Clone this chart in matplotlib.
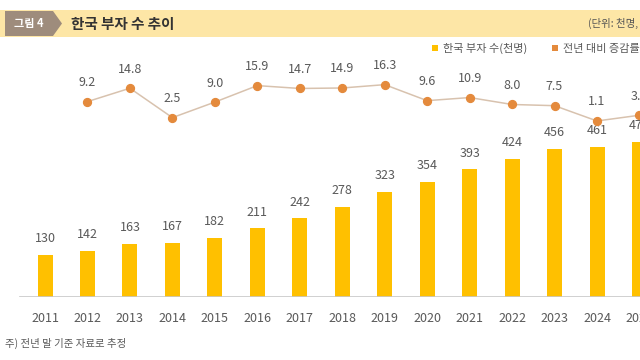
import matplotlib
matplotlib.use("Agg")
import matplotlib.pyplot as plt
from matplotlib.patches import Rectangle, Polygon

plt.rcParams['font.family'] = ['Noto Sans CJK KR', 'DejaVu Sans']

# 데이터
years = list(range(2011, 2026))
rich_counts = [130, 142, 163, 167, 182, 211, 242, 278, 323, 354, 393, 424, 456, 461, 477]
growth_years = list(range(2012, 2026))
growth_rates = [9.2, 14.8, 2.5, 9.0, 15.9, 14.7, 14.9, 16.3, 9.6, 10.9, 8.0, 7.5, 1.1, 3.5]

title = "한국 부자 수 추이"
tag = "그림 4"
unit = "(단위: 천명, %)"
legend_bar = "한국 부자 수(천명)"
legend_line = "전년 대비 증감률(%)"
note = "주) 전년 말 기준 자료로 추정"

W, H = 640, 360
bar_color = "#FFC000"
dot_color = "#E48A3C"
line_color = "#D8C2AE"
text_color = "#595959"

fig = plt.figure(figsize=(6.4, 3.6), dpi=100)
fig.patch.set_facecolor("white")

def fx(px):
    return px / W

def fy(py):
    return 1 - py / H

# 헤더 띠
fig.patches.append(Rectangle((0, fy(37)), 1, fy(10) - fy(37), transform=fig.transFigure,
                             facecolor="#FDE6A6", edgecolor="none", zorder=0))
tag_pts = [(fx(5), fy(11)), (fx(53), fy(11)), (fx(62), fy(23.5)), (fx(53), fy(36)), (fx(5), fy(36))]
fig.patches.append(Polygon(tag_pts, closed=True, transform=fig.transFigure,
                           facecolor="#9E8C7C", edgecolor="none", zorder=1))
fig.text(fx(29), fy(23.5), tag, color="white", fontsize=8, fontweight="bold", ha="center", va="center")
fig.text(fx(71), fy(23.5), title, color="#333333", fontsize=10.5, fontweight="bold", ha="left", va="center")
fig.text(fx(588), fy(23.5), unit, color="#555555", fontsize=7.5, ha="left", va="center")

# 범례
fig.patches.append(Rectangle((fx(432), fy(51)), fx(6), fy(45) - fy(51), transform=fig.transFigure,
                             facecolor=bar_color, edgecolor="none"))
fig.text(fx(443), fy(48), legend_bar, color=text_color, fontsize=8, ha="left", va="center")
fig.patches.append(Rectangle((fx(552), fy(51)), fx(6), fy(45) - fy(51), transform=fig.transFigure,
                             facecolor=dot_color, edgecolor="none"))
fig.text(fx(563), fy(48), legend_line, color=text_color, fontsize=8, ha="left", va="center")

# 메인 차트
base_y, top_y = 297, 40
ax = fig.add_axes([0, fy(base_y), 1, fy(top_y) - fy(base_y)])
step = (597 - 45) / 13
ax.set_xlim(2011 - 45 / step, 2011 + (W - 45) / step)
ax.set_ylim(0, (base_y - top_y) / 0.325)
ax.bar(years, rich_counts, width=15 / step, color=bar_color, zorder=2)
for x, v in zip(years, rich_counts):
    ax.annotate(str(v), (x, v), xytext=(0, 7), textcoords="offset points",
                ha="center", va="bottom", fontsize=9, color=text_color)
for s in ax.spines.values():
    s.set_visible(False)
ax.axhline(0, color="#C8C8C8", lw=1.2, xmin=fx(20), zorder=3)
ax.set_yticks([])
ax.set_xticks(years)
ax.set_xticklabels([str(y) for y in years], fontsize=9, color=text_color)
ax.tick_params(axis="x", length=0, pad=11)
ax.patch.set_alpha(0)

ax2 = ax.twinx()
ppu = 2.39
zero_y = 123.6
ax2.set_ylim(-(base_y - zero_y) / ppu, (zero_y - top_y) / ppu)
ax2.plot(growth_years, growth_rates, color=line_color, lw=1.1, zorder=3)
ax2.scatter(growth_years, growth_rates, s=32, color=dot_color, zorder=4)
for x, v in zip(growth_years, growth_rates):
    ax2.annotate(f"{v:.1f}", (x, v), xytext=(0, 9), textcoords="offset points",
                 ha="center", va="bottom", fontsize=9, color=text_color)
for s in ax2.spines.values():
    s.set_visible(False)
ax2.set_yticks([])

fig.text(fx(5), fy(343), note, color=text_color, fontsize=7.5, ha="left", va="center")

fig.savefig("out.png", dpi=100)
